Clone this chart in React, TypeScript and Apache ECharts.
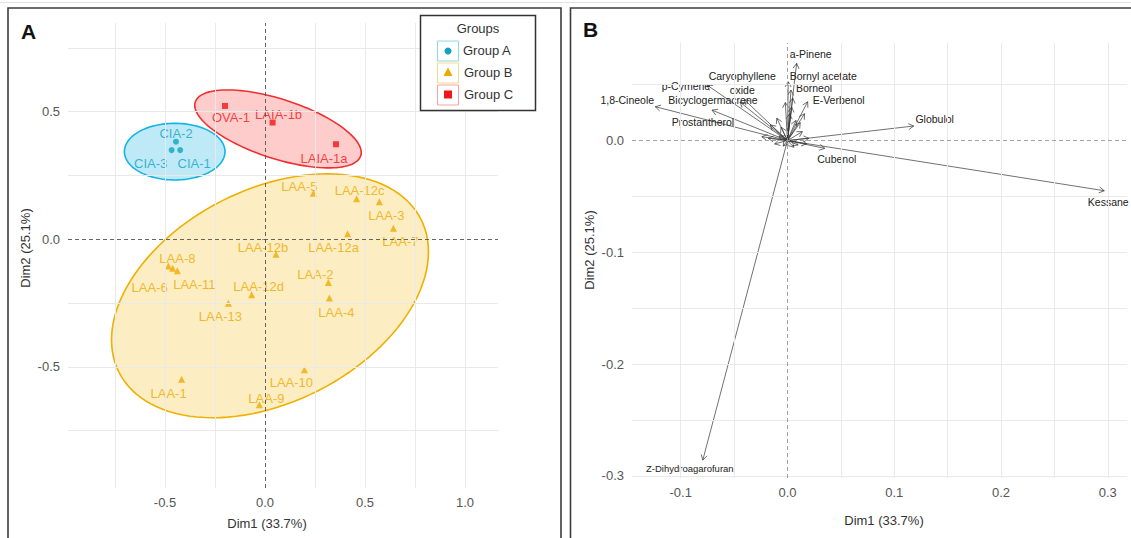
import React, { useEffect, useRef } from 'react';
import * as echarts from 'echarts';

// ---------- Panel A data (individuals) ----------
const groupNames = ['Group A', 'Group B', 'Group C'];
const aNames = ['CIA-1', 'CIA-2', 'CIA-3'];
const aX = [-0.424, -0.445, -0.467];
const aY = [0.349, 0.382, 0.349];
const bNames = ['LAA-1', 'LAA-2', 'LAA-3', 'LAA-4', 'LAA-5', 'LAA-6', 'LAA-7', 'LAA-8', 'LAA-9', 'LAA-10', 'LAA-11', 'LAA-12a', 'LAA-12b', 'LAA-12c', 'LAA-12d', 'LAA-13'];
const bX = [-0.417, 0.317, 0.572, 0.322, 0.242, -0.462, 0.642, -0.483, -0.028, 0.197, -0.438, 0.413, 0.055, 0.458, -0.067, -0.183];
const bY = [-0.549, -0.170, 0.147, -0.231, 0.180, -0.114, 0.043, -0.105, -0.649, -0.512, -0.124, 0.021, -0.059, 0.158, -0.218, -0.251];
const cNames = ['OVA-1', 'LAIA-1a', 'LAIA-1b'];
const cX = [-0.200, 0.355, 0.038];
const cY = [0.522, 0.372, 0.457];

// confidence ellipses (centre and semi-axis vectors, data units) for Group A, B, C
const ellipseCX = [-0.4515, 0.025, 0.065];
const ellipseCY = [0.343, -0.222, 0.432];
const ellipseU = [[0.2515, 0], [0.755, 0.2998], [0.4137, -0.1054]];
const ellipseV = [[0, 0.111], [0.2405, -0.372], [-0.046, -0.1106]];

// ticks panel A
const aXLabels = [-0.5, 0, 0.5, 1.0];
const aYLabels = [-0.5, 0, 0.5];
const aXGrid = [-0.75, -0.5, -0.25, 0.25, 0.5, 0.75, 1.0];
const aYGrid = [-0.75, -0.5, -0.25, 0.25, 0.5, 0.75];

// ---------- Panel B data (variables) ----------
const varNames = ['Kessane', 'Globulol', 'Z-Dihydroagarofuran', '1,8-Cineole', 'p-Cymene', 'Bicyclogermacrene', 'Caryophyllene\noxide', 'Prostantherol', 'a-Pinene', 'Bornyl acetate', 'Borneol', 'E-Verbenol', 'Cubenol',
  '', '', '', '', '', '', '', '', '', '', '', '', '', '', '', '', '', '', '', ''];
const varX = [0.2967, 0.1182, -0.0793, -0.1238, -0.0754, -0.0445, -0.0405, -0.0707, 0.0086, 0.0007, 0.0033, 0.0189, 0.0350,
  -0.024, -0.016, -0.010, -0.006, 0.004, 0.002, 0.008, 0.012, 0.014, 0.010, 0.018, 0.006, -0.004, -0.012, -0.018, 0.020, -0.008, 0.005, -0.002, 0.016];
const varY = [-0.0449, 0.0130, -0.2860, 0.0303, 0.0497, 0.0345, 0.0367, 0.0272, 0.0691, 0.0526, 0.0452, 0.0347, -0.0070,
  0.0034, 0.014, 0.020, 0.012, 0.030, 0.024, 0.018, 0.016, 0.008, -0.004, -0.003, -0.006, -0.005, -0.003, 0.002, 0.002, 0.004, 0.038, 0.034, 0.024];

const bXLabels = [-0.1, 0, 0.1, 0.2, 0.3];
const bYLabels = [-0.3, -0.2, -0.1, 0];
const bXGrid = [-0.1, -0.05, 0.05, 0.1, 0.15, 0.2, 0.25, 0.3];
const bYGrid = [0.05, -0.05, -0.1, -0.15, -0.2, -0.25, -0.3];

// ---------- styles / layout ----------
const FONT = "'Liberation Sans', Arial, Helvetica, sans-serif";
const colA = '#11a2c2';
const colB = '#eeaa00';
const colC = '#ee1818';
const ellStroke = ['#14b4e4', '#efb000', '#f03030'];
const ellFill = ['rgba(20,180,228,0.28)', 'rgba(245,184,20,0.26)', 'rgba(255,50,50,0.25)'];

// label offsets (px, label centre relative to point)
const labelOffsetA: Record<string, [number, number]> = {
  'CIA-1': [14, 13], 'CIA-2': [0, -8], 'CIA-3': [-21, 13],
  'OVA-1': [6, 12], 'LAIA-1b': [6, -8], 'LAIA-1a': [-12, 14],
  'LAA-5': [-14, -7], 'LAA-12c': [3, -8], 'LAA-3': [7, 14], 'LAA-7': [7, 13], 'LAA-12a': [-14, 14],
  'LAA-12b': [-13, -7], 'LAA-8': [9, -7], 'LAA-6': [-23, 19], 'LAA-11': [17, 14], 'LAA-2': [-13, -8],
  'LAA-4': [7, 14], 'LAA-12d': [7, -8], 'LAA-13': [-8, 13], 'LAA-1': [-13, 14], 'LAA-9': [7, -6], 'LAA-10': [-13, 13],
};
const labelOffsetB: Record<string, [number, number]> = {
  'Kessane': [4, 11], 'Globulol': [21, -7], 'Z-Dihydroagarofuran': [-13, 8], '1,8-Cineole': [-28, -7],
  'p-Cymene': [-21, 1], 'Bicyclogermacrene': [-27, -2], 'Caryophyllene\noxide': [-2, -17], 'Prostantherol': [-9, 12],
  'a-Pinene': [14, -9], 'Bornyl acetate': [35, -6], 'Borneol': [23, -2], 'E-Verbenol': [31, -2], 'Cubenol': [12, 11],
};

function gridMark(xs: number[], ys: number[], zeroColor: string) {
  const data: any[] = [];
  xs.forEach((v) => data.push({ xAxis: v }));
  ys.forEach((v) => data.push({ yAxis: v }));
  data.push({ xAxis: 0, lineStyle: { color: zeroColor, type: [4, 3], width: 0.9 } });
  data.push({ yAxis: 0, lineStyle: { color: zeroColor, type: [4, 3], width: 0.9 } });
  return {
    silent: true,
    symbol: ['none', 'none'],
    label: { show: false },
    lineStyle: { color: '#e9e9e9', width: 1, type: 'solid' },
    data,
  };
}

function pointData(names: string[], xs: number[], ys: number[]) {
  return names.map((n, i) => ({
    name: n,
    value: [xs[i], ys[i]],
    label: { offset: labelOffsetA[n] || [0, -8] },
  }));
}

function axisCommon(labels: number[], fontSize: number) {
  return {
    type: 'value',
    axisLine: { show: false },
    splitLine: { show: false },
    axisTick: { show: true, length: 3, lineStyle: { color: '#888' }, customValues: labels },
    axisLabel: {
      customValues: labels,
      color: '#555',
      fontSize,
      fontFamily: FONT,
      margin: 8,
      formatter: (v: number) => v.toFixed(1),
    },
  };
}

export default function App() {
  const ref = useRef<HTMLDivElement>(null);
  useEffect(() => {
    if (!ref.current) return;
    const chart = echarts.init(ref.current, undefined, { renderer: 'svg' });

    const ellipseSeries = {
      type: 'custom',
      xAxisIndex: 0,
      yAxisIndex: 0,
      z: 1,
      silent: true,
      data: [[0], [1], [2]],
      encode: { x: 0, y: 0 },
      renderItem: (params: any, api: any) => {
        const k = params.dataIndex;
        const pts: number[][] = [];
        for (let i = 0; i <= 120; i++) {
          const t = (i / 120) * Math.PI * 2;
          const x = ellipseCX[k] + ellipseU[k][0] * Math.cos(t) + ellipseV[k][0] * Math.sin(t);
          const y = ellipseCY[k] + ellipseU[k][1] * Math.cos(t) + ellipseV[k][1] * Math.sin(t);
          pts.push(api.coord([x, y]));
        }
        return {
          type: 'polygon',
          shape: { points: pts },
          style: { fill: ellFill[k], stroke: ellStroke[k], lineWidth: 1.6 },
        };
      },
    };

    const arrowSeries = {
      type: 'custom',
      xAxisIndex: 1,
      yAxisIndex: 1,
      z: 3,
      silent: true,
      data: varX.map((x, i) => [x, varY[i], i]),
      encode: { x: 0, y: 1 },
      renderItem: (params: any, api: any) => {
        const x = api.value(0);
        const y = api.value(1);
        const idx = api.value(2);
        const p0 = api.coord([0, 0]);
        const p1 = api.coord([x, y]);
        const ang = Math.atan2(p1[1] - p0[1], p1[0] - p0[0]);
        const L = 6;
        const a = Math.PI / 6;
        const h1 = [p1[0] - L * Math.cos(ang - a), p1[1] - L * Math.sin(ang - a)];
        const h2 = [p1[0] - L * Math.cos(ang + a), p1[1] - L * Math.sin(ang + a)];
        const children: any[] = [
          { type: 'line', shape: { x1: p0[0], y1: p0[1], x2: p1[0], y2: p1[1] }, style: { stroke: '#333', lineWidth: 0.7 } },
          { type: 'polyline', shape: { points: [h1, p1, h2] }, style: { stroke: '#333', lineWidth: 0.7, fill: 'none' } },
        ];
        const name = varNames[idx];
        if (name) {
          const off = labelOffsetB[name] || [0, 0];
          children.push({
            type: 'text',
            x: p1[0] + off[0],
            y: p1[1] + off[1],
            style: {
              text: name,
              fill: '#222',
              fontSize: name === 'Z-Dihydroagarofuran' ? 9.5 : 10.5,
              fontFamily: FONT,
              align: 'center',
              verticalAlign: 'middle',
              lineHeight: 14,
            },
          });
        }
        return { type: 'group', children };
      },
    };

    const labelStyle = (color: string) => ({
      show: true,
      position: 'inside',
      formatter: '{b}',
      color,
      fontSize: 13,
      fontFamily: FONT,
    });

    const option: any = {
      animation: false,
      backgroundColor: '#fff',
      grid: [
        { left: 68, top: 23, width: 430, height: 465 },
        { left: 632, top: 43, width: 495, height: 435 },
      ],
      xAxis: [
        { ...axisCommon(aXLabels, 13), gridIndex: 0, min: -0.985, max: 1.165 },
        { ...axisCommon(bXLabels, 13), gridIndex: 1, min: -0.1456, max: 0.318 },
      ],
      yAxis: [
        { ...axisCommon(aYLabels, 13), gridIndex: 0, min: -0.975, max: 0.847 },
        { ...axisCommon(bYLabels, 13), gridIndex: 1, min: -0.302, max: 0.0873 },
      ],
      series: [
        { type: 'scatter', xAxisIndex: 0, yAxisIndex: 0, data: [], z: 0, silent: true, markLine: gridMark(aXGrid, aYGrid, '#555') },
        { type: 'scatter', xAxisIndex: 1, yAxisIndex: 1, data: [], z: 0, silent: true, markLine: gridMark(bXGrid, bYGrid, '#999') },
        ellipseSeries,
        {
          name: groupNames[0], type: 'scatter', xAxisIndex: 0, yAxisIndex: 0, z: 4,
          symbol: 'circle', symbolSize: 6, itemStyle: { color: colA },
          label: labelStyle(colA), data: pointData(aNames, aX, aY),
        },
        {
          name: groupNames[1], type: 'scatter', xAxisIndex: 0, yAxisIndex: 0, z: 4,
          symbol: 'triangle', symbolSize: 7, itemStyle: { color: colB },
          label: labelStyle(colB), data: pointData(bNames, bX, bY),
        },
        {
          name: groupNames[2], type: 'scatter', xAxisIndex: 0, yAxisIndex: 0, z: 4,
          symbol: 'rect', symbolSize: 6, itemStyle: { color: colC },
          label: labelStyle(colC), data: pointData(cNames, cX, cY),
        },
        arrowSeries,
      ],
      graphic: [
        { type: 'line', z: 100, shape: { x1: 0, y1: 2.5, x2: 1131, y2: 2.5 }, style: { stroke: '#e2e2e2', lineWidth: 1 } },
        { type: 'rect', z: 100, shape: { x: 8, y: 8, width: 553, height: 560 }, style: { fill: 'none', stroke: '#3c3c3c', lineWidth: 1.6 } },
        { type: 'rect', z: 100, shape: { x: 570.5, y: 8, width: 600, height: 560 }, style: { fill: 'none', stroke: '#3c3c3c', lineWidth: 1.6 } },
        { type: 'text', z: 100, x: 21, y: 31, style: { text: 'A', fontSize: 21, fontWeight: 'bold', fontFamily: FONT, fill: '#111', verticalAlign: 'middle' } },
        { type: 'text', z: 100, x: 583, y: 29, style: { text: 'B', fontSize: 21, fontWeight: 'bold', fontFamily: FONT, fill: '#111', verticalAlign: 'middle' } },
        // axis titles
        { type: 'text', z: 100, x: 267, y: 523, style: { text: 'Dim1 (33.7%)', fontSize: 13, fontFamily: FONT, fill: '#333', align: 'center', verticalAlign: 'middle' } },
        { type: 'text', z: 100, x: 884, y: 520, style: { text: 'Dim1 (33.7%)', fontSize: 13, fontFamily: FONT, fill: '#333', align: 'center', verticalAlign: 'middle' } },
        { type: 'text', z: 100, x: 25, y: 248, rotation: Math.PI / 2, style: { text: 'Dim2 (25.1%)', fontSize: 13, fontFamily: FONT, fill: '#333', align: 'center', verticalAlign: 'middle' } },
        { type: 'text', z: 100, x: 589, y: 250, rotation: Math.PI / 2, style: { text: 'Dim2 (25.1%)', fontSize: 13, fontFamily: FONT, fill: '#333', align: 'center', verticalAlign: 'middle' } },
        // legend
        { type: 'rect', z: 100, shape: { x: 420.5, y: 15.5, width: 115, height: 95 }, style: { fill: '#fff', stroke: '#333', lineWidth: 1.5 } },
        { type: 'text', z: 101, x: 478, y: 28, style: { text: 'Groups', fontSize: 13, fontFamily: FONT, fill: '#333', align: 'center', verticalAlign: 'middle' } },
        { type: 'rect', z: 101, shape: { x: 437.5, y: 41, width: 21, height: 20 }, style: { fill: '#fff', stroke: '#8cd9e8', lineWidth: 1 } },
        { type: 'circle', z: 102, shape: { cx: 448, cy: 51, r: 3.5 }, style: { fill: colA } },
        { type: 'rect', z: 101, shape: { x: 437.5, y: 63, width: 21, height: 20 }, style: { fill: '#fff', stroke: '#f5d88e', lineWidth: 1 } },
        { type: 'polygon', z: 102, shape: { points: [[448, 67.5], [443.5, 76], [452.5, 76]] }, style: { fill: colB } },
        { type: 'rect', z: 101, shape: { x: 437.5, y: 85, width: 21, height: 20 }, style: { fill: '#fff', stroke: '#f6a3a3', lineWidth: 1 } },
        { type: 'rect', z: 102, shape: { x: 444, y: 90.5, width: 8, height: 8 }, style: { fill: colC } },
        { type: 'text', z: 101, x: 463, y: 50, style: { text: groupNames[0], fontSize: 13, fontFamily: FONT, fill: '#333', verticalAlign: 'middle' } },
        { type: 'text', z: 101, x: 464, y: 72, style: { text: groupNames[1], fontSize: 13, fontFamily: FONT, fill: '#333', verticalAlign: 'middle' } },
        { type: 'text', z: 101, x: 464, y: 94, style: { text: groupNames[2], fontSize: 13, fontFamily: FONT, fill: '#333', verticalAlign: 'middle' } },
      ],
    };
    chart.setOption(option);
    return () => chart.dispose();
  }, []);
  return <div ref={ref} style={{ position: 'fixed', left: 0, top: 0, width: 1131, height: 538 }} />;
}
